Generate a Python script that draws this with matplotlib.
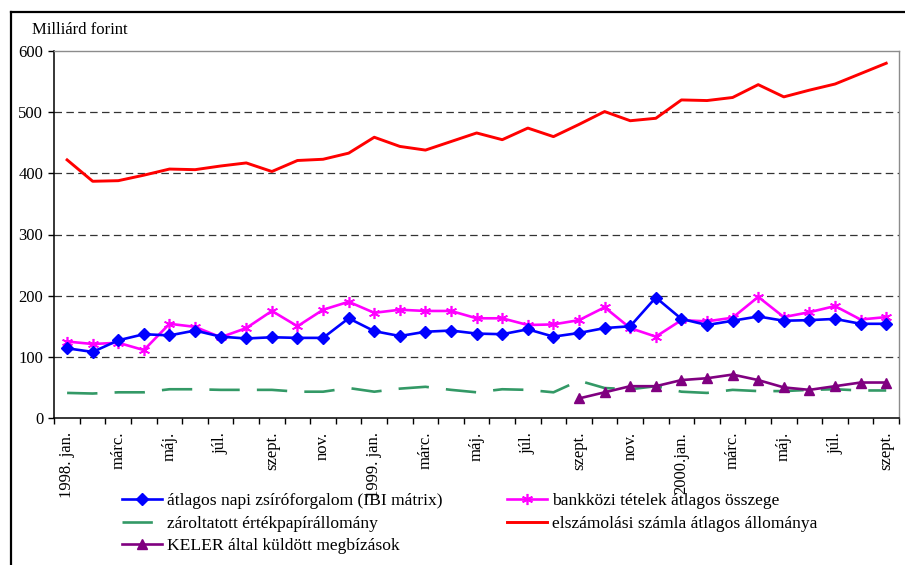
import numpy as np
import matplotlib
matplotlib.use("Agg")
import matplotlib.pyplot as plt
from matplotlib.lines import Line2D

plt.rcParams['font.family'] = ['Liberation Serif', 'DejaVu Serif']

months = ["1998. jan.", "febr.", "márc.", "ápr.", "máj.", "jún.", "júl.", "aug.", "szept.", "okt.", "nov.", "dec.",
          "1999. jan.", "febr.", "márc.", "ápr.", "máj.", "jún.", "júl.", "aug.", "szept.", "okt.", "nov.", "dec.",
          "2000.jan.", "febr.", "márc.", "ápr.", "máj.", "jún.", "júl.", "aug.", "szept."]
shown_labels = set(range(0, 33, 2))

ibi = [114, 108, 127, 137, 135, 143, 133, 130, 132, 131, 131, 163,
       142, 134, 141, 143, 138, 137, 145, 133, 139, 147, 150, 197,
       162, 152, 159, 166, 159, 160, 162, 154, 154]
bankkozi = [125, 121, 123, 111, 154, 149, 132, 147, 175, 150, 177, 190,
            172, 177, 175, 175, 163, 163, 152, 153, 160, 181, 147, 133,
            160, 158, 164, 198, 165, 173, 183, 161, 165]
zarolt = [41, 40, 42, 42, 47, 47, 46, 46, 46, 43, 43, 49,
          43, 48, 51, 46, 42, 47, 46, 42, 61, 49, 47, 52,
          43, 41, 46, 44, 44, 46, 47, 45, 45]
elszamolasi = [422, 387, 388, 397, 407, 406, 412, 417, 403, 421, 423, 433,
               459, 444, 438, 452, 466, 455, 474, 460, 480, 501, 486, 490,
               520, 519, 524, 545, 525, 536, 546, 563, 580]
keler_start = 20
keler = [32, 42, 52, 52, 62, 65, 71, 62, 50, 46, 52, 58, 58]

labels = ["átlagos napi zsíróforgalom (IBI mátrix)",
          "bankközi tételek átlagos összege",
          "zároltatott értékpapírállomány",
          "elszámolási számla átlagos állománya",
          "KELER által küldött megbízások"]

W, H = 905, 565
fig = plt.figure(figsize=(W / 100, H / 100), dpi=100)
ax = fig.add_axes([54.3 / W, 1 - 418 / H, (899 - 54.3) / W, (418 - 51) / H])

x = np.arange(len(months))
xk = np.arange(keler_start, keler_start + len(keler))

ax.set_ylim(0, 600)
ax.set_xlim(-0.5, len(months) - 0.5)

for yv in range(100, 600, 100):
    ax.axhline(yv, color='#333333', lw=0.9, dashes=(6, 3.5), zorder=1)

l_red, = ax.plot(x, elszamolasi, color='#FF0000', lw=2.1, zorder=3)
l_green, = ax.plot(x, zarolt, color='#339966', lw=1.9, zorder=3)
l_green.set_dashes((11.5, 6.5))
l_mag, = ax.plot(x, bankkozi, color='#FF00FF', lw=1.9, marker=(6, 2, 0),
                 markersize=8, markeredgewidth=1.2, zorder=4)
l_blue, = ax.plot(x, ibi, color='#0000FF', lw=1.9, marker='D',
                  markersize=6, markeredgewidth=1, zorder=5)
l_pur, = ax.plot(xk, keler, color='#800080', lw=1.9, marker='^',
                 markersize=7.5, zorder=5)

# spines
for s in ['top', 'right']:
    ax.spines[s].set_color('#8c8c8c')
    ax.spines[s].set_linewidth(1.0)
for s in ['left', 'bottom']:
    ax.spines[s].set_color('black')
    ax.spines[s].set_linewidth(1.1)

ax.set_yticks(range(0, 601, 100))
ax.tick_params(axis='y', direction='out', length=4, width=1, labelsize=12, pad=4)

ax.set_xticks(np.arange(-0.5, len(months), 1))
ax.set_xticklabels([])
ax.tick_params(axis='x', which='major', direction='out', length=4, width=1)
ax.set_xticks(x, minor=True)
ax.set_xticklabels([m if i in shown_labels else "" for i, m in enumerate(months)],
                   minor=True, rotation=90, fontsize=12, va='top', ha='center')
ax.tick_params(axis='x', which='minor', length=0, pad=10)

fig.text(32 / W, 1 - 30 / H, "Milliárd forint", fontsize=12, va='center', ha='left')

common = dict(frameon=False, fontsize=12.6, handlelength=2.3, handletextpad=0.25,
              labelspacing=0.36, borderpad=0, borderaxespad=0, loc='upper left')
fig.legend([l_blue, l_green, l_pur], [labels[0], labels[2], labels[4]],
           bbox_to_anchor=(122 / W, 1 - 493 / H), **common)
fig.legend([l_mag, l_red], [labels[1], labels[3]],
           bbox_to_anchor=(507 / W, 1 - 493 / H), **common)

# outer frame (partially cropped)
fig.add_artist(Line2D([11 / W, 11 / W], [0, 1 - 12 / H], color='black', lw=1.6,
                      transform=fig.transFigure))
fig.add_artist(Line2D([11 / W, 1], [1 - 12 / H, 1 - 12 / H], color='black', lw=1.6,
                      transform=fig.transFigure))

fig.savefig("out.png", dpi=100)
